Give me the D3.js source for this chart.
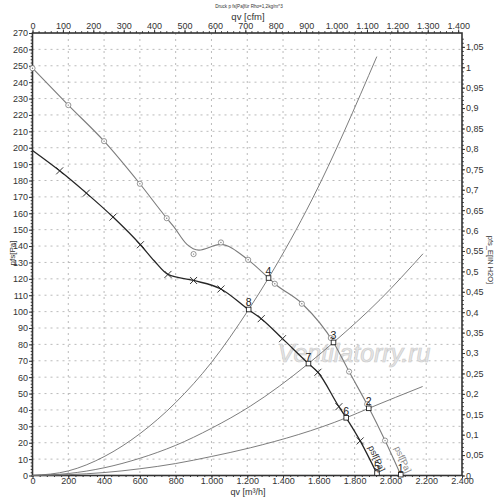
<!DOCTYPE html>
<html><head><meta charset="utf-8">
<script src="https://cdn.jsdelivr.net/npm/d3@7"></script>
<style>
body{margin:0;background:#fff}
svg{display:block}
text{font-family:"Liberation Sans",Arial,sans-serif}
</style>
</head><body>
<svg id="c" width="500" height="502"></svg>
<script>
// ---- tick values ----
const qvTicks = [0,200,400,600,800,1000,1200,1400,1600,1800,2000,2200,2400];
const cfmTicks = [0,100,200,300,400,500,600,700,800,900,1000,1100,1200,1300,1400];
const paTicks = [0,10,20,30,40,50,60,70,80,90,100,110,120,130,140,150,160,170,180,190,200,210,220,230,240,250,260,270];
const inH2OTicks = [0,0.05,0.1,0.15,0.2,0.25,0.3,0.35,0.4,0.45,0.5,0.55,0.6,0.65,0.7,0.75,0.8,0.85,0.9,0.95,1,1.05];

// ---- fan curves (qv m3/h, pfs Pa) ----
const upperQ = [0,200,400,600,750,788,863,930,1050,1205,1319,1354,1507,1682,1769,1881,1970,2058];
const upperP = [248.5,226,204,178,157,152,141,137.5,141,131.6,120.5,117,104.8,81.2,63.4,41,21.3,0.3];
const lowerQ = [0,152,301,450,603,680,757,900,1053,1207,1278,1397,1542,1595,1712,1753,1831,1925];
const lowerP = [198.3,185.9,172.3,157.7,140.8,131,122.7,119,113.8,101.2,95.7,83.5,68.3,63,42,35.2,21.1,1];

// ---- curve markers ----
const circleQ = [0,200,400,600,750,900,1053,1205,1354,1505,1667,1769,1870,1970];
const circleP = [248.5,226,204,178,157,135.1,142.2,131.6,117,104.8,83.9,63.4,43.5,21.3];
const crossQ = [152,301,450,603,757,900,1053,1278,1397,1595,1712,1831];
const crossP = [185.9,172.3,157.7,140.8,122.7,119,113.8,95.7,83.5,63,42,21.1];

// ---- system curves ----
const sysSteepQ = [0,200,400,600,800,1000,1208,1319,1561,1924];
const sysSteepP = [0,2.8,11.5,25.5,44.5,69,101.3,120.5,168.2,255.6];
const sysMidQ = [0,200,400,600,800,1000,1217,1542,1682,1942,2182];
const sysMidP = [0,1.2,4.7,10.5,18.4,28.8,42.3,68.3,81.2,107.3,135.3];
const sysLowQ = [0,200,400,600,800,1000,1217,1753,1879,2180];
const sysLowP = [0,0.5,1.8,4.1,7.3,11.6,16.9,35.2,41,54.3];

// ---- operating points ----
const opLabels = ["1","2","3","4","5","6","7","8"];
const opQ = [2058,1879,1682,1319,1925,1753,1542,1208];
const opP = [0.5,41,81.2,120.5,1.5,35.2,68.3,101.3];

// unit conversions
const M3H_PER_CFM = 1.699;
const PA_PER_INH2O = 249.09;

const svg = d3.select("#c");
const L = 32.5, R = 462, T = 33, B = 475.5;
const x = d3.scaleLinear().domain([0,2400]).range([L,R]);
const xCfm = d3.scaleLinear().domain([0,2400/M3H_PER_CFM]).range([L,R]);
const y = d3.scaleLinear().domain([0,270]).range([B,T]);
const yIn = d3.scaleLinear().domain([0,270/PA_PER_INH2O]).range([B,T]);

const axisColor = "#333";
// grid
const grid = svg.append("g").attr("stroke","#aaa").attr("stroke-width",0.8).attr("stroke-dasharray","2,4");
grid.selectAll("line.v").data(qvTicks.slice(1,-1)).enter().append("line")
  .attr("x1",d=>x(d)).attr("x2",d=>x(d)).attr("y1",T).attr("y2",B);
grid.selectAll("line.h").data(paTicks.slice(1,-1)).enter().append("line")
  .attr("y1",d=>y(d)).attr("y2",d=>y(d)).attr("x1",L).attr("x2",R);

// watermark
svg.append("text").attr("x",x(1370)).attr("y",y(69.5)).attr("font-size",25).attr("font-style","italic")
  .attr("fill","#e6e6e6").attr("stroke","#cdcdcd").attr("stroke-width",0.7).text("Ventilatorry.ru");

function styleAxis(g){
  g.select(".domain").remove();
  g.selectAll("line").attr("stroke",axisColor);
  g.selectAll("text").attr("fill","#333").attr("font-size",9).attr("font-family",'"Liberation Sans",Arial,sans-serif');
}
const fmtQ = v => d3.format(",")(v).replace(/,/g,".");
const fmtIn = v => d3.format(".2~f")(v).replace(".",",");

// minor ticks
const minorPa = d3.range(0,271,2);
const minorIn = d3.range(0,1.08,0.01);
const minorCfm = d3.range(0,1411,20);
const minorQ = d3.range(0,2401,40);
svg.append("g").attr("transform",`translate(${L},0)`).call(d3.axisLeft(y).tickValues(minorPa).tickSize(1.8).tickFormat("")).call(styleAxis);
svg.append("g").attr("transform",`translate(${R},0)`).call(d3.axisRight(yIn).tickValues(minorIn).tickSize(1.8).tickFormat("")).call(styleAxis);
svg.append("g").attr("transform",`translate(0,${T})`).call(d3.axisTop(xCfm).tickValues(minorCfm).tickSize(1.8).tickFormat("")).call(styleAxis);
svg.append("g").attr("transform",`translate(0,${B})`).call(d3.axisBottom(x).tickValues(minorQ).tickSize(1.5).tickFormat("")).call(styleAxis);

// major axes
svg.append("g").attr("transform",`translate(${L},0)`).call(d3.axisLeft(y).tickValues(paTicks).tickSize(3.5).tickPadding(1).tickFormat(d3.format("d"))).call(styleAxis);
svg.append("g").attr("transform",`translate(${R},0)`).call(d3.axisRight(yIn).tickValues(inH2OTicks).tickSize(3).tickPadding(1).tickFormat(fmtIn)).call(styleAxis);
svg.append("g").attr("transform",`translate(0,${T})`).call(d3.axisTop(xCfm).tickValues(cfmTicks).tickSize(3.5).tickPadding(1).tickFormat(fmtQ)).call(styleAxis);
svg.append("g").attr("transform",`translate(0,${B})`).call(d3.axisBottom(x).tickValues(qvTicks).tickSize(2.5).tickPadding(0).tickFormat(fmtQ)).call(styleAxis);

// frame
svg.append("rect").attr("x",L).attr("y",T).attr("width",R-L).attr("height",B-T)
  .attr("fill","none").attr("stroke",axisColor).attr("stroke-width",1.6);

// curves
const line = d3.line().x(d=>x(d[0])).y(d=>y(d[1])).curve(d3.curveMonotoneX);
const zip = (a,b)=>a.map((v,i)=>[v,b[i]]);
[[sysSteepQ,sysSteepP],[sysMidQ,sysMidP],[sysLowQ,sysLowP]].forEach(([q,p])=>{
  svg.append("path").attr("d",line(zip(q,p))).attr("fill","none").attr("stroke","#6e6e6e").attr("stroke-width",0.9);
});
svg.append("path").attr("d",line(zip(upperQ,upperP))).attr("fill","none").attr("stroke","#7c7c7c").attr("stroke-width",1.1);
svg.append("path").attr("d",line(zip(lowerQ,lowerP))).attr("fill","none").attr("stroke","#262626").attr("stroke-width",1.3);

// circle markers
const cg = svg.append("g");
zip(circleQ,circleP).forEach(d=>{
  cg.append("circle").attr("cx",x(d[0])).attr("cy",y(d[1])).attr("r",2.6).attr("fill","#fff").attr("stroke","#7c7c7c").attr("stroke-width",0.8);
  cg.append("circle").attr("cx",x(d[0])).attr("cy",y(d[1])).attr("r",0.7).attr("fill","#7c7c7c");
});
// cross markers
svg.append("g").selectAll("path").data(zip(crossQ,crossP)).enter().append("path")
  .attr("transform",d=>`translate(${x(d[0])},${y(d[1])})`)
  .attr("d","M-3.5,-3.5L3.5,3.5M-3.5,3.5L3.5,-3.5").attr("stroke","#222").attr("stroke-width",0.9);

// operating points
const og = svg.append("g");
opLabels.forEach((lab,i)=>{
  const px = x(opQ[i]), py = y(opP[i]);
  og.append("rect").attr("x",px-2.3).attr("y",py-2.3).attr("width",4.6).attr("height",4.6)
    .attr("fill","#fff").attr("stroke","#222").attr("stroke-width",0.9);
  og.append("text").attr("x",px).attr("y",py-3).attr("text-anchor","middle").attr("font-size",10.5).attr("fill","#222").text(lab);
});

// rotated curve labels
svg.append("text").attr("transform",`translate(${x(2054)},${y(9)}) rotate(65)`).attr("text-anchor","middle")
  .attr("font-size",9).attr("fill","#8a8a8a").text("psf[Pa]");
svg.append("text").attr("transform",`translate(${x(1908)},${y(9.5)}) rotate(65)`).attr("text-anchor","middle")
  .attr("font-size",9).attr("fill","#333").text("psf[Pa]");

// titles
svg.append("text").attr("x",249).attr("y",7.5).attr("text-anchor","middle").attr("font-size",4.6).attr("fill","#333")
  .text("Druck p fs[Pa]für Rho=1,2kg/m^3");
svg.append("text").attr("x",248).attr("y",20).attr("text-anchor","middle").attr("font-size",9.5).attr("fill","#333").text("qv [cfm]");
svg.append("text").attr("x",248).attr("y",494.5).attr("text-anchor","middle").attr("font-size",9).attr("fill","#333").text("qv [m³/h]");
svg.append("text").attr("transform","translate(15,253) rotate(-90)").attr("text-anchor","middle").attr("font-size",8).attr("fill","#333").text("pfs[Pa]");
svg.append("text").attr("transform","translate(487.5,260) rotate(90)").attr("text-anchor","middle").attr("font-size",7.5).attr("fill","#333").text("pfs_E[IN H2O]");
</script>
</body></html>
